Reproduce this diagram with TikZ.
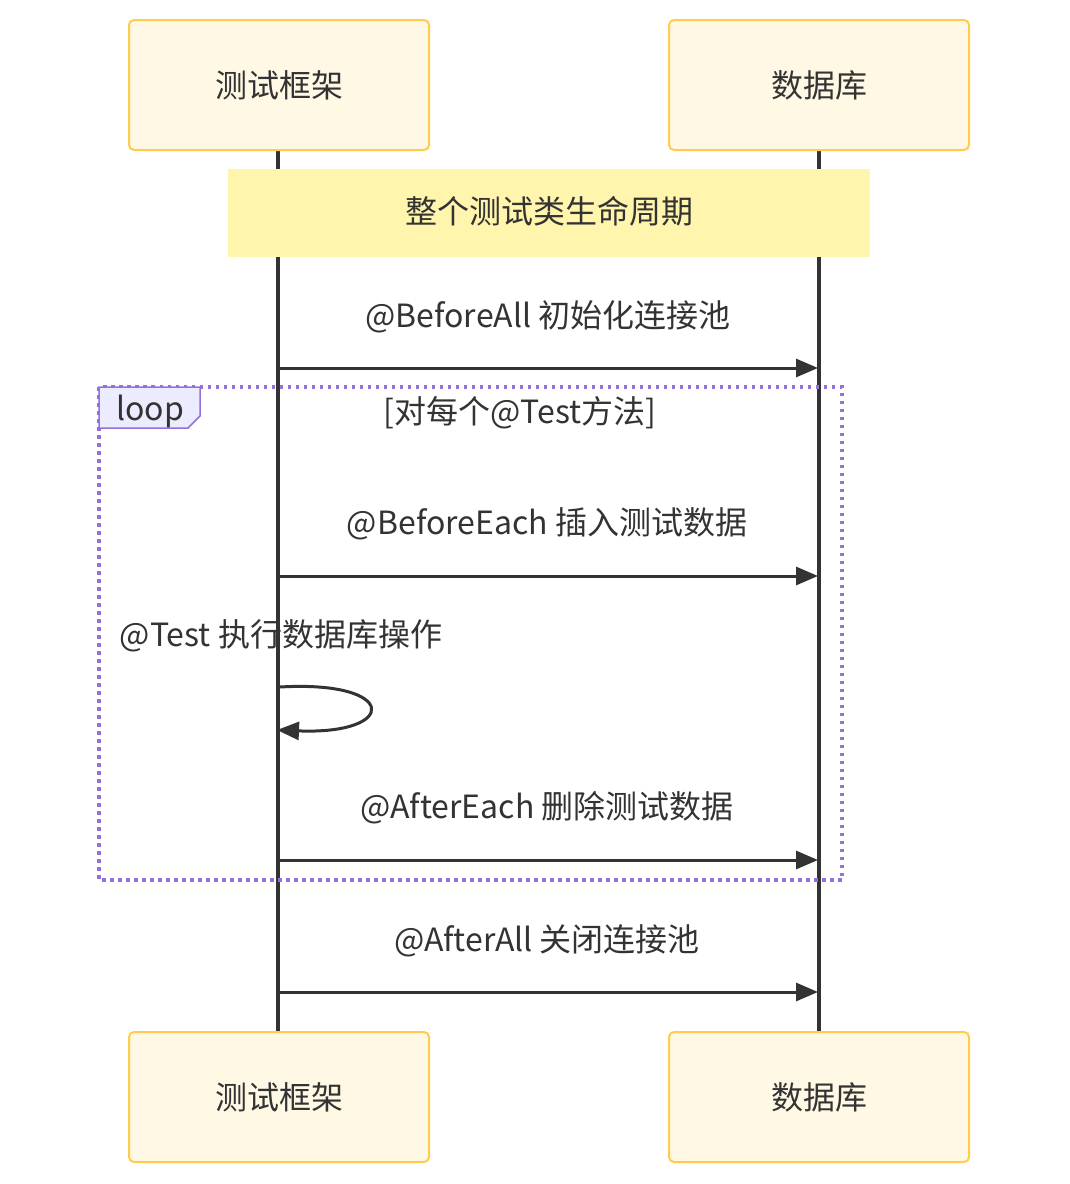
\documentclass[tikz,border=0pt]{standalone}
\usepackage{fontspec}
\setmainfont{Noto Sans CJK SC}
\usetikzlibrary{arrows.meta}
\definecolor{txt}{HTML}{333333}
\definecolor{actfill}{HTML}{FFF8E5}
\definecolor{actdraw}{HTML}{FFCC4D}
\definecolor{notefill}{HTML}{FFF5AD}
\definecolor{looppurple}{HTML}{9370DB}
\definecolor{labfill}{HTML}{ECECFF}
\tikzset{
  actor/.style={draw=actdraw, fill=actfill, line width=2pt, rounded corners=5pt, minimum width=300pt, minimum height=130pt, inner sep=0pt, text=txt, font=\fontsize{32}{38}\selectfont},
  lbl/.style={text=txt, font=\fontsize{32}{38}\selectfont, inner sep=0pt},
  msg/.style={draw=txt, line width=3pt, -{Triangle[length=22pt,width=18pt]}},
  lifeline/.style={draw=txt, line width=3.2pt}
}
\begin{document}
\begin{tikzpicture}[x=1pt,y=-1pt]
\useasboundingbox (0,0) rectangle (1070,1184);
\fill[white] (0,0) rectangle (1070,1184);
% lifelines
\coordinate (la) at (278,150);
\coordinate (lb) at (278,1032);
\coordinate (ra) at (819,150);
\coordinate (rb) at (819,1032);
\draw[lifeline] (la) -- (lb);
\draw[lifeline] (ra) -- (rb);
% actors
\node[actor] (a1) at (279,85) {测试框架};
\node[actor] (a2) at (819,85) {数据库};
\node[actor] (a3) at (279,1097) {测试框架};
\node[actor] (a4) at (819,1097) {数据库};
% note
\fill[notefill] (228,169) rectangle (870,257);
\node[lbl] (note) at (549,211) {整个测试类生命周期};
% message 1
\node[lbl] (t1) at (548,317) {@BeforeAll 初始化连接池};
\coordinate (s1) at (280,368);
\coordinate (e1) at (818,368);
\draw[msg] (s1) -- (e1);
% loop box
\draw[looppurple, line width=3.5pt, dash pattern=on 3.5pt off 4.5pt] (99,387) rectangle (842,880);
\draw[looppurple, fill=labfill, line width=1.5pt] (99,387) -- (200,387) -- (200,416) -- (188,428) -- (99,428) -- cycle;
\node[lbl] (loopl) at (150,411) {loop};
\node[lbl] (cond) at (520,413) {[对每个@Test方法]};
% message 2
\node[lbl] (t2) at (547,524) {@BeforeEach 插入测试数据};
\coordinate (s2) at (280,576);
\coordinate (e2) at (818,576);
\draw[msg] (s2) -- (e2);
% self message
\node[lbl] (t3) at (281,636) {@Test 执行数据库操作};
\coordinate (s3) at (280,687);
\coordinate (e3) at (277,730);
\draw[msg] (s3) .. controls (399,680) and (399,735) .. (e3);
% message 4
\node[lbl] (t4) at (547,808) {@AfterEach 删除测试数据};
\coordinate (s4) at (280,860);
\coordinate (e4) at (818,860);
\draw[msg] (s4) -- (e4);
% message 5
\node[lbl] (t5) at (547,941) {@AfterAll 关闭连接池};
\coordinate (s5) at (280,992);
\coordinate (e5) at (818,992);
\draw[msg] (s5) -- (e5);
\end{tikzpicture}
\end{document}
